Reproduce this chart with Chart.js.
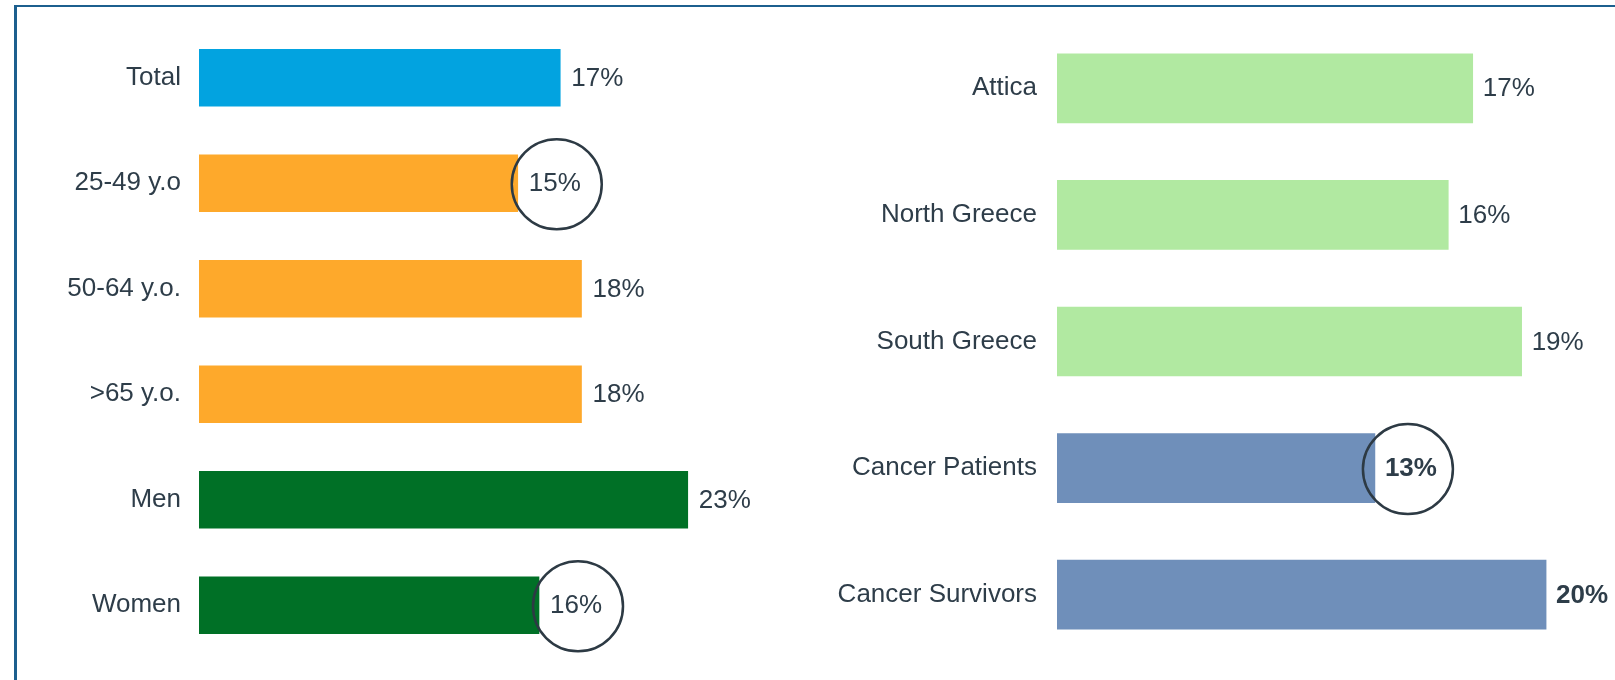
<!DOCTYPE html>
<html>
<head>
<meta charset="utf-8">
<script src="https://cdn.jsdelivr.net/npm/chart.js@4"></script>
<style>
  body { margin: 0; background: #fff; }
  .frame { position: absolute; left: 14px; top: 5px; width: 1601px; height: 675px;
           border-top: 2px solid #1c5f8e; border-left: 3px solid #1c5f8e; }
  .box { position: absolute; top: 0; height: 680px; }
  #leftBox { left: 0; width: 800px; }
  #rightBox { left: 800px; width: 815px; }
</style>
</head>
<body>
<div class="frame"></div>
<div class="box" id="leftBox"><canvas id="leftChart"></canvas></div>
<div class="box" id="rightBox"><canvas id="rightChart"></canvas></div>
<script>
// left panel: total, age groups, gender
const leftLabels = ['Total', '25-49 y.o', '50-64 y.o.', '>65 y.o.', 'Men', 'Women'];
const leftValues = [17, 15, 18, 18, 23, 16];
const leftColors = ['#02a3e0', '#fea92b', '#fea92b', '#fea92b', '#007026', '#007026'];
const leftCircled = ['25-49 y.o', 'Women'];
const leftBold = [];

// right panel: regions and patients
const rightLabels = ['Attica', 'North Greece', 'South Greece', 'Cancer Patients', 'Cancer Survivors'];
const rightValues = [17, 16, 19, 13, 20];
const rightColors = ['#b1e9a1', '#b1e9a1', '#b1e9a1', '#6f8fba', '#6f8fba'];
const rightCircled = ['Cancer Patients'];
const rightBold = ['Cancer Patients', 'Cancer Survivors'];

const textColor = '#2e3d49';
const fontFam = '"Liberation Sans", Arial, sans-serif';

// draws the % labels next to bars, with a ring round the highlighted ones
const valueLabels = {
    id: 'valueLabels',
    afterDatasetsDraw(chart, args, opts) {
        const ctx = chart.ctx;
        const meta = chart.getDatasetMeta(0);
        const labels = chart.data.labels;
        ctx.save();
        meta.data.forEach((bar, i) => {
            const txt = chart.data.datasets[0].data[i] + '%';
            const bold = opts.bold.includes(labels[i]);
            ctx.font = (bold ? 'bold ' : '') + '26px ' + fontFam;
            ctx.fillStyle = textColor;
            ctx.textAlign = 'left';
            ctx.textBaseline = 'middle';
            ctx.fillText(txt, bar.x + opts.gap, bar.y + 1);
            if (opts.circled.includes(labels[i])) {
                ctx.beginPath();
                ctx.arc(bar.x + opts.ring, bar.y + 1, 45, 0, Math.PI * 2);
                ctx.lineWidth = 2.5;
                ctx.strokeStyle = '#2d3a44';
                ctx.stroke();
            }
        });
        ctx.restore();
    }
};

function makeChart(id, labels, values, colors, opt) {
    return new Chart(document.getElementById(id), {
        type: 'bar',
        data: {
            labels: labels,
            datasets: [{
                data: values,
                backgroundColor: colors,
                barThickness: opt.thick
            }]
        },
        plugins: [valueLabels],
        options: {
            indexAxis: 'y',
            responsive: true,
            maintainAspectRatio: false,
            animation: false,
            layout: { padding: { top: 25, bottom: 22, left: 0, right: opt.padRight } },
            plugins: {
                legend: { display: false },
                tooltip: { enabled: false },
                valueLabels: { gap: opt.gap, ring: opt.ring, circled: opt.circled, bold: opt.bold }
            },
            scales: {
                x: { display: false, min: 0, max: opt.max },
                y: {
                    grid: { display: false, drawTicks: false },
                    border: { display: false },
                    ticks: {
                        color: textColor,
                        padding: opt.tickPad,
                        font: { size: 26, family: fontFam }
                    },
                    afterFit(scale) {
                        scale.width = opt.axisWidth;
                        scale.paddingTop = 0;
                        scale.paddingBottom = 0;
                    }
                }
            }
        }
    });
}

makeChart('leftChart', leftLabels, leftValues, leftColors,
    { thick: 57, padRight: 6, max: 28, axisWidth: 199, tickPad: 18, gap: 11, ring: 39, circled: leftCircled, bold: leftBold });
makeChart('rightChart', rightLabels, rightValues, rightColors,
    { thick: 69, padRight: 20, max: 22, axisWidth: 257, tickPad: 20, gap: 10, ring: 33, circled: rightCircled, bold: rightBold });
</script>
</body>
</html>
